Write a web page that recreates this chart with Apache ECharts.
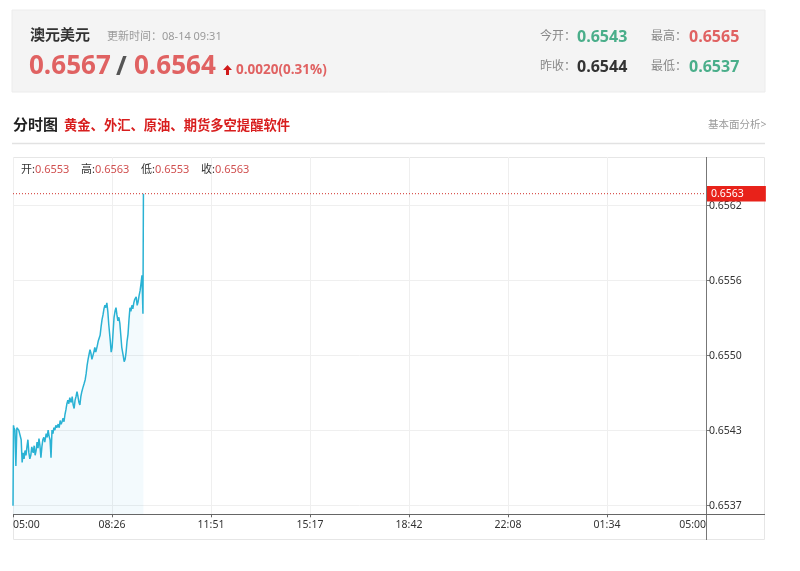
<!DOCTYPE html>
<html><head><meta charset="utf-8">
<script src="https://cdn.jsdelivr.net/npm/echarts@6/dist/echarts.min.js"></script>
<style>html,body{margin:0;padding:0;background:#fff;}#c{width:800px;height:571px;}</style>
</head><body><div id="c"></div>
<script>
// ---- header data ----
const pairName = '澳元美元';
const updateTime = '更新时间：08-14 09:31';
const priceBid = '0.6567';
const priceAsk = '0.6564';
const priceChange = '0.0020(0.31%)';
const statLabels = ['今开：', '最高：', '昨收：', '最低：'];
const statValues = ['0.6543', '0.6565', '0.6544', '0.6537'];
const sectionTitle = '分时图';
const promoText = '黄金、外汇、原油、期货多空提醒软件';
const linkText = '基本面分析>';
const barLabels = ['开:', '高:', '低:', '收:'];
const barValues = ['0.6553', '0.6563', '0.6553', '0.6563'];
const lastPrice = 0.6563;

// ---- axis data ----
const xTickLabels = ['05:00', '08:26', '11:51', '15:17', '18:42', '22:08', '01:34', '05:00'];
const yTickLabels = ['0.6537', '0.6543', '0.6550', '0.6556', '0.6562'];
const yTickMin = 0.6537, yTickMax = 0.6562, yTickStep = 0.000625;
const sessionMinutes = 1440; // 05:00 -> 05:00

// ---- series data (minutes after 05:00, price) ----
const minutes = [0,1,2,4,6,8,10,12,15,17,19,21,23,25,27,29,31,33,35,37,39,42,44,46,48,50,52,54,56,58,60,62,64,66,69,71,73,75,77,79,81,83,85,87,89,91,94,96,98,100,102,104,106,108,110,112,114,116,118,121,123,125,127,129,131,133,135,137,139,141,143,145,148,150,152,154,156,158,160,162,164,166,168,170,172,175,177,179,181,183,185,187,189,191,193,195,197,199,202,204,206,208,210,212,214,216,218,220,222,224,226,229,231,233,235,237,239,241,243,245,247,249,251,253,256,258,260,262,264,266,268,270,271];
const prices = [0.6537,0.65437,0.65435,0.65433,0.65403,0.65435,0.65436,0.65433,0.65434,0.65425,0.65406,0.65414,0.65409,0.65416,0.65412,0.65419,0.65425,0.65414,0.65409,0.65412,0.65419,0.65414,0.65420,0.65412,0.65416,0.65423,0.65418,0.65426,0.65420,0.65410,0.65419,0.65425,0.65427,0.65423,0.65430,0.65427,0.65433,0.65428,0.65425,0.65410,0.65433,0.65430,0.65435,0.65433,0.65437,0.65435,0.65438,0.65435,0.65441,0.65438,0.65440,0.65443,0.65440,0.65446,0.65450,0.65455,0.65458,0.65455,0.65460,0.65456,0.65461,0.65454,0.65451,0.65458,0.65461,0.65465,0.65461,0.65456,0.65454,0.65461,0.65465,0.65468,0.65472,0.65475,0.65480,0.65487,0.65492,0.65496,0.65500,0.65497,0.65492,0.65493,0.65498,0.65502,0.65498,0.65503,0.65507,0.65508,0.65512,0.65519,0.65525,0.65529,0.65534,0.65537,0.65535,0.65539,0.65532,0.65521,0.65508,0.65498,0.65502,0.65515,0.65527,0.65532,0.65535,0.65529,0.65524,0.65527,0.65522,0.65512,0.65502,0.65495,0.65490,0.65492,0.65498,0.65507,0.65513,0.65525,0.65535,0.65532,0.65537,0.65534,0.65539,0.65542,0.65544,0.65537,0.65540,0.65545,0.65549,0.65555,0.65562,0.6553,0.6563];

// ---- layout ----
const W = 800, H = 571;
const plotLeft = 13, plotRight = 706, plotTop = 157, plotBottom = 514.3;
const tickTopY = 205.7, tickBottomY = 505.7;
const pxPerUnit = (tickBottomY - tickTopY) / (yTickMax - yTickMin);
const yMin0 = yTickMin - (plotBottom - tickBottomY) / pxPerUnit;
const yMax0 = yTickMax + (tickTopY - plotTop) / pxPerUnit;
const xStep = sessionMinutes / 7;

const FONT = "'Noto Sans','Noto Sans CJK SC',sans-serif";
const NUMFONT = "'Open Sans','Noto Sans CJK SC',sans-serif";
function txt(x, y, text, size, color, weight, family, align) {
  return {type: 'text', x: x, y: y, z: 100, silent: true,
    style: {text: text, fill: color, fontSize: size, fontWeight: weight || 'normal',
      fontFamily: family || FONT, align: align || 'left', verticalAlign: 'middle',
      textAlign: align || 'left', textVerticalAlign: 'middle'}};
}
function line(x1, y1, x2, y2, color, w, z) {
  return {type: 'line', z: z || 50, silent: true, shape: {x1: x1, y1: y1, x2: x2, y2: y2},
    style: {stroke: color, lineWidth: w || 1}};
}

const green = '#4aae8a', red = '#e06262';
const graphics = [
  {type: 'rect', z: 1, silent: true, shape: {x: 12, y: 10, width: 753, height: 82}, style: {fill: '#f4f4f4', stroke: '#ececec', lineWidth: 1}},
  txt(30, 36, pairName, 15, '#333', 'bold'),
  txt(107, 37, updateTime, 11, '#9a9a9a'),
  txt(29, 67, priceBid, 26, red, 'bold', NUMFONT),
  txt(116, 68, '/', 26, '#555', 'bold', NUMFONT),
  txt(134, 67, priceAsk, 26, red, 'bold', NUMFONT),
  {type: 'polygon', z: 100, silent: true,
    shape: {points: [[227.5, 65], [223, 70], [226, 70], [226, 75], [229, 75], [229, 70], [232, 70]]},
    style: {fill: '#d11a1a'}},
  txt(236, 70, priceChange, 13.5, red, 'bold', NUMFONT),
  txt(540, 37, statLabels[0], 12, '#888'),
  txt(577, 37, statValues[0], 16, green, 'bold', NUMFONT),
  txt(651, 37, statLabels[1], 12, '#888'),
  txt(689, 37, statValues[1], 16, red, 'bold', NUMFONT),
  txt(540, 67, statLabels[2], 12, '#888'),
  txt(577, 67, statValues[2], 16, '#333', 'bold', NUMFONT),
  txt(651, 67, statLabels[3], 12, '#888'),
  txt(689, 67, statValues[3], 16, green, 'bold', NUMFONT),
  txt(13, 126, sectionTitle, 15, '#222', 'bold'),
  txt(64, 126, promoText, 13.3, '#d81e1e', 'bold'),
  txt(708, 125, linkText, 10.5, '#9a9a9a'),
  line(12, 143.5, 765, 143.5, '#e2e2e2', 1.5, 1),
  {type: 'rect', z: 0, silent: true, shape: {x: 13.5, y: 157.5, width: 751, height: 382}, style: {fill: 'none', stroke: '#e6e6e6', lineWidth: 1}},
  line(706.5, 157, 706.5, 540, '#777', 1, 60),
  line(13, 514.5, 765, 514.5, '#666', 1, 60)
];
barLabels.forEach(function (l, i) {
  graphics.push({type: 'text', x: 21 + i * 60, y: 170, z: 100, silent: true,
    style: {text: '{a|' + l + '}{b|' + barValues[i] + '}', fontFamily: FONT, fontSize: 11,
      verticalAlign: 'middle', textVerticalAlign: 'middle',
      rich: {a: {fill: '#333', color: '#333', fontSize: 11, fontFamily: FONT},
             b: {fill: '#d05050', color: '#d05050', fontSize: 11, fontFamily: FONT}}}});
});

const pts = minutes.map(function (m, i) { return [m, prices[i]]; });
const lastLinePts = [[0, lastPrice], [sessionMinutes, lastPrice]];

const option = {
  animation: false,
  backgroundColor: '#fff',
  graphic: {elements: graphics},
  grid: [
    {left: plotLeft, right: W - plotRight, top: plotTop, bottom: H - plotBottom, containLabel: false, outerBoundsMode: 'none'},
    {left: plotLeft, right: W - plotRight, top: tickTopY, bottom: H - tickBottomY, containLabel: false, outerBoundsMode: 'none'}
  ],
  xAxis: [
    {type: 'value', gridIndex: 0, min: 0, max: sessionMinutes, interval: xStep + 0.0001,
      axisLine: {show: false, onZero: false},
      axisTick: {show: true, length: 3, lineStyle: {color: '#666'}},
      splitLine: {show: true, lineStyle: {color: '#efefef', width: 1}},
      axisLabel: {show: true, color: '#333', fontSize: 10.5, fontFamily: FONT, margin: 5,
        alignMinLabel: 'left', alignMaxLabel: 'right',
        formatter: function (v) { return xTickLabels[Math.round(v / xStep)] || ''; }}},
    {type: 'value', gridIndex: 1, min: 0, max: sessionMinutes, show: false,
      axisLine: {show: false, onZero: false}, axisTick: {show: false}, axisLabel: {show: false}, splitLine: {show: false}}
  ],
  yAxis: [
    {type: 'value', gridIndex: 0, position: 'right', min: yMin0, max: yMax0, scale: true,
      axisLine: {show: false, onZero: false}, axisTick: {show: false}, axisLabel: {show: false}, splitLine: {show: false}},
    {type: 'value', gridIndex: 1, position: 'right', min: yTickMin, max: yTickMax + 1e-9, interval: yTickStep,
      axisLine: {show: false, onZero: false},
      axisTick: {show: true, length: 4, inside: false, lineStyle: {color: '#777'}},
      splitLine: {show: true, lineStyle: {color: '#efefef', width: 1}},
      axisLabel: {show: true, color: '#333', fontSize: 10.5, fontFamily: FONT, margin: 3,
        formatter: function (v, i) { return yTickLabels[i] || ''; }}}
  ],
  series: [{
    type: 'line', xAxisIndex: 0, yAxisIndex: 0, data: pts, z: 3,
    showSymbol: false, symbol: 'none', smooth: false,
    lineStyle: {color: '#2ab2d4', width: 1.5},
    itemStyle: {color: '#2ab2d4'},
    areaStyle: {color: 'rgba(40,172,220,0.08)', origin: 'start'}
  }, {
    type: 'line', xAxisIndex: 0, yAxisIndex: 0, data: lastLinePts, z: 4,
    showSymbol: false, symbol: 'none', silent: true,
    lineStyle: {color: '#d0302a', type: [1, 2], width: 1},
    itemStyle: {color: '#d0302a'},
    endLabel: {show: true, distance: 1,
      formatter: function () { return lastPrice.toFixed(4); },
      backgroundColor: '#e8221a', color: '#fff', fontSize: 10.5, fontFamily: FONT,
      padding: [3, 22, 2, 4]}
  }]
};
const chart = echarts.init(document.getElementById('c'), null, {renderer: 'canvas', width: W, height: H});
chart.setOption(option);
</script>
</body></html>
